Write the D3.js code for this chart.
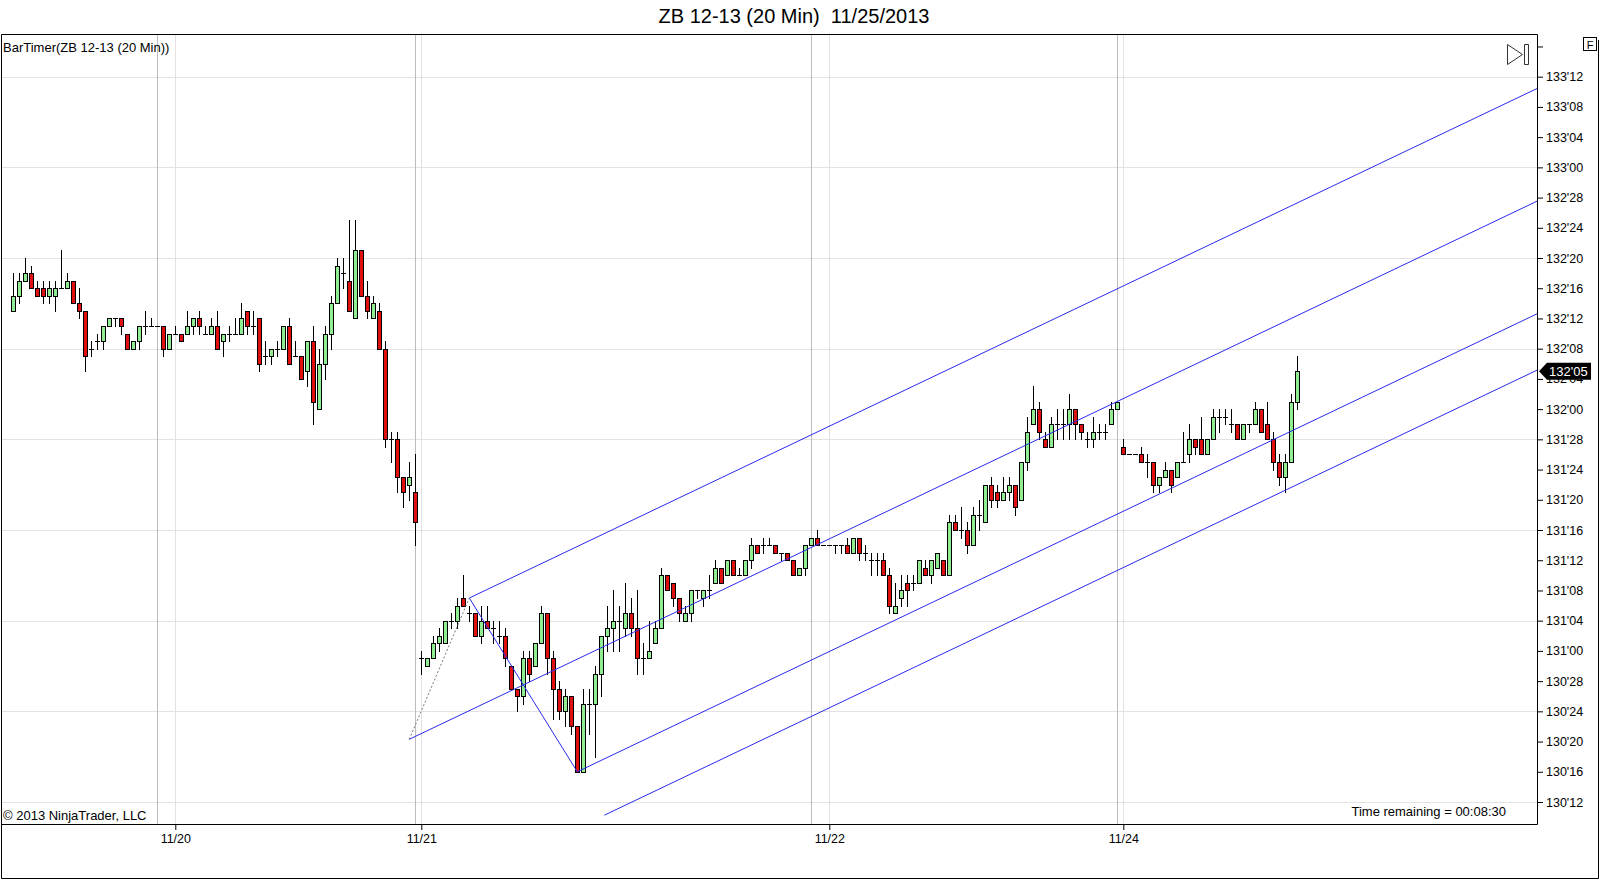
<!DOCTYPE html>
<html>
<head>
<meta charset="utf-8">
<script src="https://cdn.jsdelivr.net/npm/d3@7"></script>
<style>
  body { margin: 0; background: #fff; }
  svg { display: block; font-family: "Liberation Sans", Arial, sans-serif; }
</style>
</head>
<body>
<svg id="chart" width="1600" height="880"></svg>
<script>
// prices are kept in 32nds above 130'00 (64 = 132'00), one entry per 20 min bar
const opens = [
  77,79,81,82,80,80,79,79,80,80,81,78,77,72,73,73,75,76,76,74,72,73,75,75,75,75,72,74,74,74,
  75,76,74,74,75,73,74,74,74,77,75,76,71,71,72,72,75,71,71,69,73,64,70,74,78,82,81,76,85,79,
  76,77,72,60,60,55,54,53,31,30,31,33,33,36,36,39,37,37,34,36,35,34,34,30,27,26,31,30,33,37,
  31,27,24,26,22,16,25,25,29,34,35,36,35,37,35,31,31,33,35,42,41,39,36,37,40,39,40,41,43,42,
  44,42,42,44,46,46,46,46,45,45,44,42,43,46,47,46,46,46,46,46,45,47,45,44,44,44,42,37,39,41,
  41,41,43,42,43,44,42,49,48,48,46,50,49,54,53,52,53,54,52,57,62,64,60,59,62,62,62,64,62,60,
  60,61,61,62,64,59,58,58,58,57,57,54,55,56,55,57,58,60,60,58,60,63,63,62,62,60,62,62,64,62,
  60,57,55,57,65
];
const highs = [
  82,82,84,83,81,81,81,81,85,82,81,80,77,73,74,75,76,76,76,74,73,75,77,76,75,75,74,75,74,77,
  76,77,75,76,77,74,75,76,78,77,77,76,73,72,73,75,76,73,71,73,75,72,75,79,84,84,89,89,85,81,
  79,78,73,61,61,55,57,58,32,31,34,35,36,37,39,42,38,37,38,38,36,36,35,30,27,32,32,33,38,37,
  32,28,27,26,22,27,27,30,34,38,40,38,41,39,40,33,36,36,43,42,41,39,38,40,40,40,42,44,43,44,
  44,43,44,47,46,47,47,46,45,45,44,43,46,47,48,46,46,46,46,47,47,47,46,45,45,45,43,41,42,42,
  42,44,44,44,45,44,50,50,51,49,51,52,54,55,54,55,55,54,57,63,67,65,61,63,64,64,66,64,62,61,
  63,62,62,65,65,60,58,58,59,58,57,55,57,56,57,61,62,60,63,60,64,64,64,64,62,62,62,65,64,65,
  61,58,58,66,71
];
const lows = [
  77,78,81,80,79,78,78,77,80,80,78,76,69,71,72,72,75,75,74,72,72,72,74,75,75,71,72,74,73,74,
  74,74,74,74,72,71,73,74,74,74,74,69,70,70,71,72,70,71,68,67,62,64,68,72,78,80,77,76,79,76,
  76,72,59,57,53,51,52,46,29,30,31,32,33,35,35,38,36,34,33,35,33,33,30,27,24,25,28,30,33,29,
  23,23,22,21,16,16,21,18,26,32,32,32,34,34,29,29,31,33,35,40,38,36,36,36,39,38,39,41,41,42,
  42,42,42,43,45,45,46,45,44,44,42,42,42,46,46,46,46,45,45,45,45,44,44,42,42,42,37,37,38,38,
  40,41,42,41,43,42,42,48,47,45,46,48,49,51,51,52,52,50,52,56,62,60,59,59,60,60,60,60,60,59,
  59,60,60,62,64,58,58,58,57,55,53,53,55,53,55,57,57,58,58,58,60,61,62,61,60,60,61,62,61,60,
  56,54,53,57,64
];
const closes = [
  79,81,82,80,79,79,80,80,80,81,78,77,71,72,73,75,76,76,75,72,73,75,75,75,75,72,74,74,73,75,
  76,75,74,75,72,74,74,74,76,75,75,70,71,72,72,75,70,71,68,73,65,70,74,78,83,82,77,85,79,77,
  78,72,60,60,55,53,55,49,31,31,33,34,36,36,38,38,37,34,36,35,35,34,31,27,26,31,29,33,37,31,
  27,24,26,22,16,25,25,29,34,35,36,36,37,35,31,31,32,35,42,40,39,37,37,40,40,40,40,43,41,44,
  42,42,44,46,45,46,46,45,45,44,42,43,46,47,46,46,46,46,46,45,47,45,45,44,44,42,38,38,40,40,
  41,44,42,44,45,42,49,48,48,46,50,50,54,52,52,53,54,51,57,61,64,61,59,62,62,62,64,62,61,60,
  61,61,61,64,65,58,58,58,57,57,54,55,56,54,57,57,60,59,58,60,63,63,63,62,60,62,62,64,61,60,
  57,55,57,65,69
];

const priceTicks = d3.range(12, 113, 4);     // 130'12 .. 133'16 every 4/32
const gridTicks = d3.range(12, 109, 12);     // horizontal grid every 12/32
const dateBars = [27, 68, 136, 185];
const dateLabels = ['11/20', '11/21', '11/22', '11/24'];
const sessionBars = [24, 67, 133, 184];

// Andrews pitchfork anchors: A, B, C as [bar, price in 32nds]
const forkBars = [66, 76, 94];
const forkPrices = [20.3, 39, 16];
const outerTineStart = 98.5;
const outerTineRatio = 1.5;

const titleText = "ZB 12-13 (20 Min)  11/25/2013";
const indicatorText = "BarTimer(ZB 12-13 (20 Min))";
const timerText = "Time remaining = 00:08:30";

const panel = {left: 1, top: 34, right: 1537, bottom: 824};
const upColor = '#90ee90', downColor = '#e01010', forkColor = '#2a2aee';

const fmt = t => (130 + Math.floor(t / 32)) + "'" + String(t % 32).padStart(2, '0');

const svg = d3.select('#chart');

var x = d3.scaleLinear().domain([0, 214]).range([13.3, 1297.3]);
var y = d3.scaleLinear().domain([12, 108]).range([802, 76.7]);
const px = i => Math.round(x(i));
const py = t => Math.round(y(t));

svg.append('defs').append('clipPath').attr('id', 'clip')
  .append('rect')
  .attr('x', panel.left).attr('y', panel.top)
  .attr('width', panel.right - panel.left).attr('height', panel.bottom - panel.top);

//Title
svg.append('text')
  .attr('x', 794).attr('y', 23)
  .attr('text-anchor', 'middle')
  .attr('font-size', 20)
  .style('white-space', 'pre')
  .text(titleText);

const plot = svg.append('g').attr('clip-path', 'url(#clip)');

//Grid lines
plot.selectAll('line.hgrid')
  .data(gridTicks)
  .enter().append('line')
  .attr('class', 'hgrid')
  .attr('x1', panel.left).attr('x2', panel.right)
  .attr('y1', d => py(d) + 0.5).attr('y2', d => py(d) + 0.5)
  .attr('stroke', '#e2e2e2');

plot.selectAll('line.dgrid')
  .data(dateBars)
  .enter().append('line')
  .attr('class', 'dgrid')
  .attr('x1', d => px(d) + 0.5).attr('x2', d => px(d) + 0.5)
  .attr('y1', panel.top).attr('y2', panel.bottom)
  .attr('stroke', '#e2e2e2');

plot.selectAll('line.sgrid')
  .data(sessionBars)
  .enter().append('line')
  .attr('class', 'sgrid')
  .attr('x1', d => px(d) + 0.5).attr('x2', d => px(d) + 0.5)
  .attr('y1', panel.top).attr('y2', panel.bottom)
  .attr('stroke', '#bcbcbc');

//Candles
var bars = plot.selectAll('g.bar')
  .data(d3.range(opens.length))
  .enter()
  .append('g')
  .attr('class', 'bar');

bars.append('line')
  .attr('x1', i => px(i) + 0.5).attr('x2', i => px(i) + 0.5)
  .attr('y1', i => py(highs[i])).attr('y2', i => py(lows[i]) + 1)
  .attr('stroke', '#000');

bars.filter(i => opens[i] !== closes[i])
  .append('rect')
  .attr('x', i => px(i) - 1.5)
  .attr('width', 4)
  .attr('y', i => py(Math.max(opens[i], closes[i])) + 0.5)
  .attr('height', i => py(Math.min(opens[i], closes[i])) - py(Math.max(opens[i], closes[i])))
  .attr('fill', i => closes[i] > opens[i] ? upColor : downColor)
  .attr('stroke', '#000');

bars.filter(i => opens[i] === closes[i])
  .append('line')
  .attr('x1', i => px(i) - 2).attr('x2', i => px(i) + 3)
  .attr('y1', i => py(opens[i]) + 0.5).attr('y2', i => py(opens[i]) + 0.5)
  .attr('stroke', '#000');

//Pitchfork
const endBar = x.invert(panel.right);
const midBar = (forkBars[1] + forkBars[2]) / 2;
const midPrice = (forkPrices[1] + forkPrices[2]) / 2;
const slope = (midPrice - forkPrices[0]) / (midBar - forkBars[0]);
const median = b => forkPrices[0] + slope * (b - forkBars[0]);
const tineOffset = forkPrices[2] - median(forkBars[2]);

const forkLines = [
  [forkBars[0], median(forkBars[0]), endBar, median(endBar)],
  [forkBars[1], forkPrices[1], endBar, forkPrices[1] + slope * (endBar - forkBars[1])],
  [forkBars[2], forkPrices[2], endBar, forkPrices[2] + slope * (endBar - forkBars[2])],
  [outerTineStart, median(outerTineStart) + outerTineRatio * tineOffset,
   endBar, median(endBar) + outerTineRatio * tineOffset],
  [forkBars[1], forkPrices[1], forkBars[2], forkPrices[2]]
];

plot.selectAll('line.fork')
  .data(forkLines)
  .enter().append('line')
  .attr('class', 'fork')
  .attr('x1', d => x(d[0])).attr('y1', d => y(d[1]))
  .attr('x2', d => x(d[2])).attr('y2', d => y(d[3]))
  .attr('stroke', forkColor)
  .attr('stroke-width', 1);

plot.append('line')
  .attr('x1', x(forkBars[0])).attr('y1', y(forkPrices[0]))
  .attr('x2', x(forkBars[1])).attr('y2', y(forkPrices[1]))
  .attr('stroke', '#777')
  .attr('stroke-dasharray', '2,2');

//Panel texts
svg.append('text')
  .attr('x', 3).attr('y', 52)
  .attr('font-size', 13)
  .text(indicatorText);

svg.append('text')
  .attr('x', 3).attr('y', 820)
  .attr('font-size', 13)
  .text('\u00a9 2013 NinjaTrader, LLC');

svg.append('text')
  .attr('x', 1506).attr('y', 816)
  .attr('text-anchor', 'end')
  .attr('font-size', 13)
  .text(timerText);

//Borders
svg.append('path')
  .attr('d', `M${panel.left + 0.5},${panel.bottom + 0.5}V${panel.top + 0.5}H${panel.right + 0.5}V${panel.bottom + 0.5}Z`)
  .attr('fill', 'none').attr('stroke', '#000');
svg.append('path')
  .attr('d', `M${panel.left + 0.5},${panel.bottom}V878.5H1598.5V${panel.top + 6}`)
  .attr('fill', 'none').attr('stroke', '#000');

//Add right axis
var axisRight = d3.axisRight(y)
  .tickValues(priceTicks)
  .tickFormat(t => t > 108 ? '' : fmt(t))
  .tickSize(6)
  .tickPadding(3);
svg.append('g')
  .attr('class', 'rightAxis')
  .attr('transform', 'translate(' + panel.right + ',0)')
  .call(axisRight)
  .call(g => g.select('.domain').remove())
  .attr('font-family', '"Liberation Sans", Arial, sans-serif')
  .attr('font-size', 12.5)
  .call(g => g.selectAll('text').attr('fill', '#000'))
  .call(g => g.selectAll('line').attr('stroke', '#000'));

//Add bottom axis
var axisBottom = d3.axisBottom(x)
  .tickValues(dateBars)
  .tickFormat((d, i) => dateLabels[i])
  .tickSize(6)
  .tickPadding(4);
svg.append('g')
  .attr('class', 'bottomAxis')
  .attr('transform', 'translate(0,' + panel.bottom + ')')
  .call(axisBottom)
  .call(g => g.select('.domain').remove())
  .attr('font-family', '"Liberation Sans", Arial, sans-serif')
  .attr('font-size', 12.5)
  .call(g => g.selectAll('text').attr('fill', '#000'))
  .call(g => g.selectAll('line').attr('stroke', '#000'));

//Last price marker
const last = closes[closes.length - 1];
const ly = y(last);
svg.append('path')
  .attr('d', `M${panel.right + 2},${ly}L${panel.right + 10},${ly - 8.5}H${panel.right + 54}V${ly + 8.5}H${panel.right + 10}Z`)
  .attr('fill', '#000');
svg.append('text')
  .attr('x', panel.right + 12).attr('y', ly + 4.5)
  .attr('font-size', 13)
  .attr('fill', '#fff')
  .text(fmt(last));

//Chart trader icons
svg.append('path')
  .attr('d', 'M1507.5,44.5V64.5L1522.5,54.5Z M1524.5,44.5H1528.5V64.5H1524.5Z')
  .attr('fill', 'none').attr('stroke', '#333');
svg.append('rect')
  .attr('x', 1583.5).attr('y', 37.5).attr('width', 13).attr('height', 13)
  .attr('fill', '#fff').attr('stroke', '#000');
svg.append('text')
  .attr('x', 1590).attr('y', 48.5)
  .attr('text-anchor', 'middle')
  .attr('font-size', 11)
  .text('F');
</script>
</body>
</html>
